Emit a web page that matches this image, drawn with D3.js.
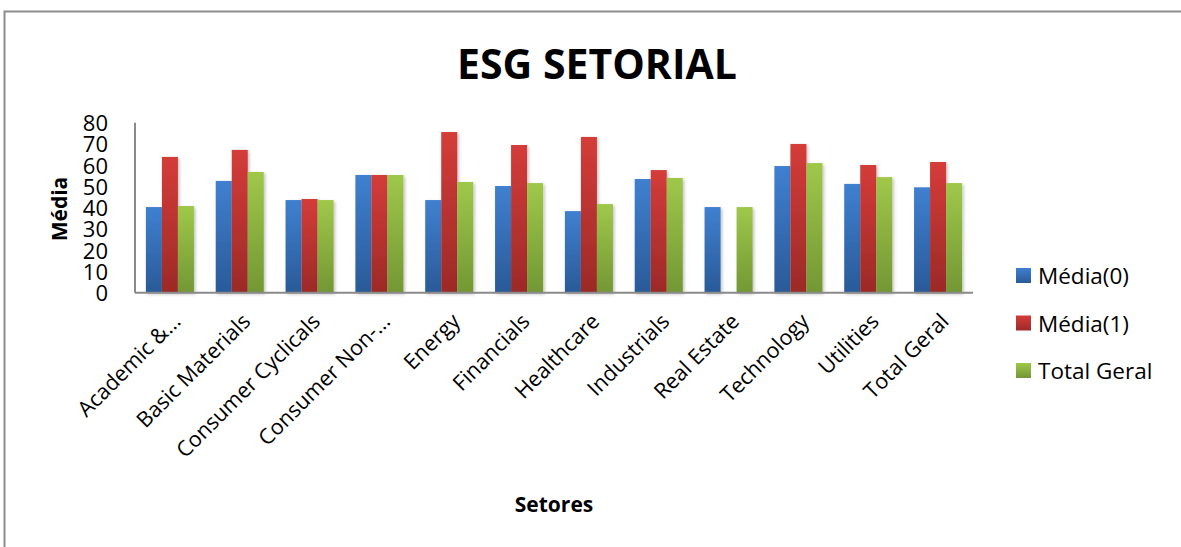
<!DOCTYPE html>
<html>
<head>
<meta charset="utf-8">
<style>
  body { margin: 0; background: #fff; }
  svg { display: block; }
  .axis text { font-family: "Open Sans", sans-serif; fill: #000; }
</style>
</head>
<body>
<svg width="1181" height="547"></svg>
<script src="https://cdn.jsdelivr.net/npm/d3@7"></script>
<script>

var setores = ["Academic &...", "Basic Materials", "Consumer Cyclicals", "Consumer Non-...",
               "Energy", "Financials", "Healthcare", "Industrials", "Real Estate",
               "Technology", "Utilities", "Total Geral"];
var series = ["Média(0)", "Média(1)", "Total Geral"];
var media0 = [40.3, 52.6, 43.6, 55.4, 43.6, 50.2, 38.4, 53.5, 40.3, 59.6, 51.2, 49.6];
var media1 = [63.9, 67.2, 44.1, 55.4, 75.6, 69.5, 73.3, 57.7, 0, 70.0, 60.1, 61.5];
var totalGeral = [40.8, 56.8, 43.6, 55.4, 52.1, 51.6, 41.7, 54.0, 40.3, 61.0, 54.4, 51.6];
var yTicks = [0, 10, 20, 30, 40, 50, 60, 70, 80];

var svg = d3.select("svg"),
    margin = {top: 122.7, right: 208, bottom: 254.3, left: 135},
    width = +svg.attr("width") - margin.left - margin.right,
    height = +svg.attr("height") - margin.top - margin.bottom;

// cores: topo claro, base escura
var colors = [
  {top: "#3f80d0", bottom: "#2a5a98"},
  {top: "#d43c39", bottom: "#9c2a27"},
  {top: "#9fc84a", bottom: "#739734"}
];

var defs = svg.append("defs");
colors.forEach(function(c, i) {
  var g = defs.append("linearGradient").attr("id", "grad" + i)
      .attr("x1", 0).attr("y1", 0).attr("x2", 0).attr("y2", 1);
  g.append("stop").attr("offset", "0%").attr("stop-color", c.top);
  g.append("stop").attr("offset", "100%").attr("stop-color", c.bottom);
});
var shadow = defs.append("filter").attr("id", "shadow")
    .attr("x", "-30%").attr("y", "-10%").attr("width", "160%").attr("height", "130%");
shadow.append("feDropShadow").attr("dx", 1.5).attr("dy", 1.5).attr("stdDeviation", 1.8)
    .attr("flood-color", "#000").attr("flood-opacity", 0.25);

// moldura
svg.append("rect")
    .attr("x", 4.5).attr("y", 11.5).attr("width", 1190).attr("height", 560)
    .attr("fill", "none").attr("stroke", "#8c8c8c").attr("stroke-width", 2);

var data = setores.map(function(s, i) {
  return {setor: s, values: [media0[i], media1[i], totalGeral[i]]};
});

var x = d3.scaleBand().domain(setores).range([0, width])
    .paddingInner(0.312).paddingOuter(0.156);
var x1 = d3.scaleBand().domain(d3.range(series.length)).range([0, x.bandwidth()]);
var y = d3.scaleLinear().domain([0, 80]).range([height, 0]);

var g = svg.append("g").attr("transform", "translate(" + margin.left + "," + margin.top + ")");

// grade
g.append("g")
  .selectAll("line")
  .data(yTicks)
  .enter().append("line")
    .attr("x1", -8).attr("x2", width)
    .attr("y1", d => y(d)).attr("y2", d => y(d))
    .attr("stroke", "#8a8a8a").attr("stroke-width", 2)
    .attr("filter", "url(#shadow)");

// eixo y
var yAxis = g.append("g").attr("class", "axis")
    .call(d3.axisLeft(y).tickValues(yTicks).tickSize(0).tickPadding(27));
yAxis.select(".domain").remove();
yAxis.selectAll("text").style("font-size", "22px").attr("dy", "0.36em");
g.append("line")
    .attr("x1", 0).attr("x2", 0).attr("y1", 0).attr("y2", height)
    .attr("stroke", "#8a8a8a").attr("stroke-width", 2);

// barras
var groups = g.selectAll(".grupo")
  .data(data)
  .enter().append("g")
    .attr("transform", d => "translate(" + x(d.setor) + ",0)");
groups.selectAll("rect")
  .data(d => d.values.map((v, i) => ({v: v, i: i})))
  .enter().append("rect")
    .attr("x", d => x1(d.i))
    .attr("width", x1.bandwidth())
    .attr("y", d => y(d.v))
    .attr("height", d => height - y(d.v))
    .attr("fill", d => "url(#grad" + d.i + ")")
    .attr("filter", "url(#shadow)");

// eixo x
g.append("line")
    .attr("x1", 0).attr("x2", width).attr("y1", height).attr("y2", height)
    .attr("stroke", "#8a8a8a").attr("stroke-width", 2);
var xAxis = g.append("g").attr("class", "axis")
    .attr("transform", "translate(0," + height + ")")
    .call(d3.axisBottom(x).tickSize(0));
xAxis.select(".domain").remove();
xAxis.selectAll("text")
    .style("font-size", "21.5px")
    .style("text-anchor", "end")
    .attr("y", 0).attr("dy", 0)
    .attr("transform", "translate(12,30) rotate(-45)");

// títulos
svg.append("text")
    .attr("x", 597).attr("y", 79)
    .attr("text-anchor", "middle")
    .style("font-family", "'Open Sans', sans-serif")
    .style("font-weight", "bold").style("font-size", "41px")
    .text("ESG SETORIAL");

svg.append("text")
    .attr("transform", "translate(67,209) rotate(-90)")
    .attr("text-anchor", "middle")
    .style("font-family", "'Open Sans', sans-serif")
    .style("font-weight", "bold").style("font-size", "21px")
    .text("Média");

svg.append("text")
    .attr("x", margin.left + width / 2).attr("y", 512)
    .attr("text-anchor", "middle")
    .style("font-family", "'Open Sans', sans-serif")
    .style("font-weight", "bold").style("font-size", "21px")
    .text("Setores");

// legenda
var legend = svg.append("g").attr("transform", "translate(1016,268)");
var item = legend.selectAll("g")
  .data(series)
  .enter().append("g")
    .attr("transform", (d, i) => "translate(0," + (i * 47.5) + ")");
item.append("rect")
    .attr("width", 15).attr("height", 15)
    .attr("fill", (d, i) => "url(#grad" + i + ")");
item.append("text")
    .attr("x", 22).attr("y", 16)
    .style("font-family", "'Open Sans', sans-serif")
    .style("font-size", "22.5px")
    .text(d => d);

</script>
</body>
</html>
